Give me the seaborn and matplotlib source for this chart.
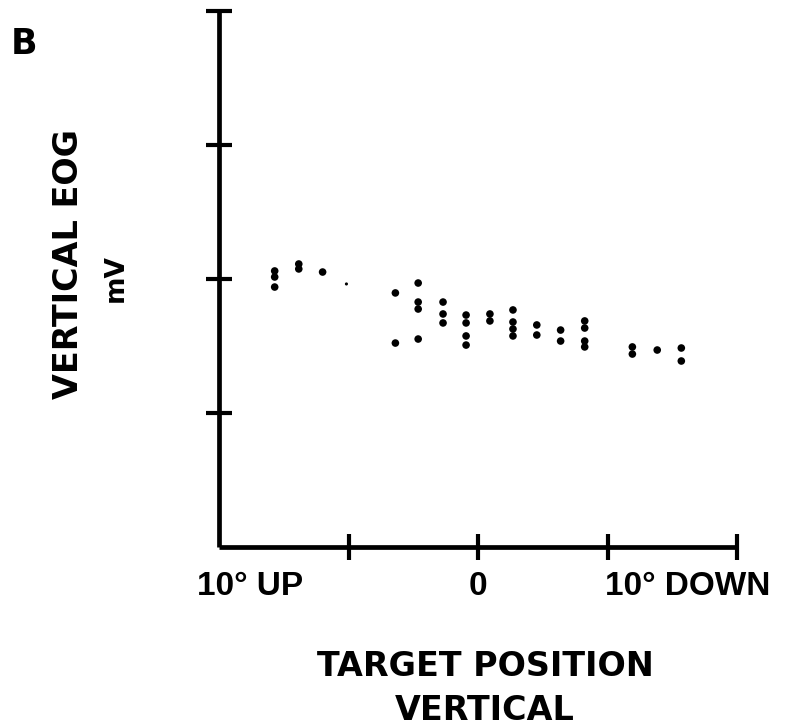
import matplotlib
matplotlib.use("Agg")
import matplotlib.pyplot as plt
import seaborn as sns
import pandas as pd

# Target position in degrees (negative = up, positive = down)
target_deg = [
    -7.85, -7.85, -7.85,
    -6.92, -6.92,
    -6.00,
    -3.19, -3.19,
    -2.31, -2.31, -2.31, -2.31,
    -1.35, -1.35, -1.35,
    -0.46, -0.46, -0.46, -0.46,
    0.46, 0.46,
    1.35, 1.35, 1.35, 1.35,
    2.27, 2.27,
    3.19, 3.19,
    4.12, 4.12, 4.12, 4.12,
    5.96, 5.96,
    6.92,
    7.85, 7.85,
]
# Vertical EOG amplitude (arbitrary mV units, axis spans 0-4)
eog_mv = [
    2.06, 2.015, 1.94,
    2.112, 2.075,
    2.052,
    1.896, 1.522,
    1.97, 1.828, 1.776, 1.552,
    1.828, 1.739, 1.672,
    1.731, 1.672, 1.575, 1.507,
    1.739, 1.687,
    1.769, 1.679, 1.627, 1.575,
    1.657, 1.582,
    1.619, 1.537,
    1.687, 1.634, 1.537, 1.493,
    1.493, 1.44,
    1.47,
    1.485, 1.388,
]
# A single faint sample
faint_deg = [-5.08]
faint_mv = [1.963]

x_ticks = [-5, 0, 5, 10]
y_ticks = [1, 2, 3, 4]
label_pos = [-8.8, 0, 8.1]
label_text = ["10° UP", "0", "10° DOWN"]

df = pd.DataFrame({"target": target_deg, "eog": eog_mv})
df_faint = pd.DataFrame({"target": faint_deg, "eog": faint_mv})

sns.set_style("white")
plt.rcParams["text.color"] = "black"
W, H = 790, 728
fig = plt.figure(figsize=(W / 100, H / 100), dpi=100)
ax = fig.add_axes([219 / W, 181 / H, 518 / W, 536 / H])

sns.scatterplot(data=df, x="target", y="eog", ax=ax, color="black",
                s=30, edgecolor="none", linewidth=0, legend=False)
sns.scatterplot(data=df_faint, x="target", y="eog", ax=ax, color="black",
                s=5, edgecolor="none", linewidth=0, legend=False)

ax.set_xlim(-10, 10)
ax.set_ylim(0, 4)
for side in ["top", "right"]:
    ax.spines[side].set_visible(False)
for side in ["left", "bottom"]:
    ax.spines[side].set_linewidth(3.4)
    ax.spines[side].set_color("black")
    ax.spines[side].set_capstyle("butt")

ax.xaxis.remove_overlapping_locs = False
ax.set_xticks(x_ticks)
ax.set_xticklabels([])
ax.set_yticks(y_ticks)
ax.set_yticklabels([])
ax.tick_params(axis="both", which="major", direction="inout", length=19,
               width=3.0, color="black", bottom=True, left=True)

ax.set_xticks(label_pos, minor=True)
ax.set_xticklabels(label_text, minor=True, fontsize=24, fontweight="bold",
                   family="Liberation Sans", color="black")
ax.tick_params(axis="x", which="minor", length=0, pad=17, bottom=True,
               labelcolor="black")
ax.set_xlabel("")
ax.set_ylabel("")
ax.patch.set_alpha(0)

def fx(px):
    return px / W

def fy(py):
    return 1 - py / H

fig.text(fx(485), fy(666), "TARGET POSITION", ha="center", va="center",
         fontsize=24, fontweight="bold", family="DejaVu Sans", color="black")
fig.text(fx(485), fy(710), "VERTICAL", ha="center", va="center",
         fontsize=24, fontweight="bold", family="DejaVu Sans", color="black")
fig.text(fx(69), fy(264), "VERTICAL EOG", ha="center", va="center",
         rotation=90, fontsize=24, fontweight="bold", family="DejaVu Sans",
         color="black")
fig.text(fx(116), fy(278), "mV", ha="center", va="center",
         rotation=90, fontsize=19, fontweight="bold", family="DejaVu Sans",
         color="black")
fig.text(fx(24), fy(44), "B", ha="center", va="center",
         fontsize=25, fontweight="bold", family="DejaVu Sans", color="black")

fig.savefig("out.png", dpi=100)
